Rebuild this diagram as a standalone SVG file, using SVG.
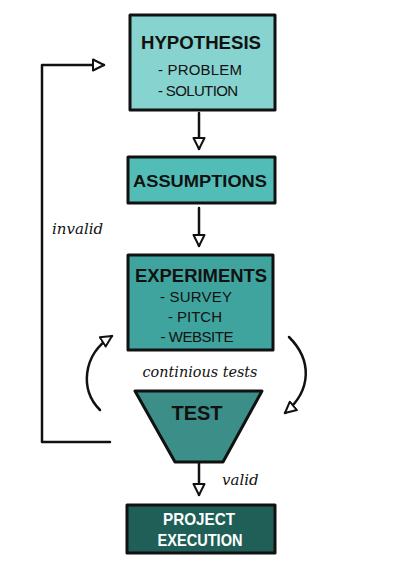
<svg xmlns="http://www.w3.org/2000/svg" width="400" height="566" viewBox="0 0 400 566">
<defs>
<marker id="open" viewBox="0 0 14 14" refX="12" refY="7" markerWidth="14" markerHeight="14" markerUnits="userSpaceOnUse" orient="auto">
<path d="M1,1.5 L12,7 L1,12.5 Z" fill="#fff" stroke="#111" stroke-width="2" stroke-linejoin="round"/>
</marker>
</defs>
<style>
.box{stroke:#111;stroke-width:3;stroke-linejoin:round}
.title{font-family:"Liberation Sans",Arial,sans-serif;font-weight:bold;fill:#111;text-anchor:middle}
.item{font-family:"Liberation Sans",Arial,sans-serif;fill:#111;text-anchor:middle;font-size:15px}
.line{fill:none;stroke:#111;stroke-width:2.5;stroke-linecap:round;stroke-linejoin:round}
.hand{font-family:"DejaVu Serif","Liberation Serif",serif;font-style:italic;fill:#111}
</style>
<rect width="400" height="566" fill="#fff"/>
<g id="connectors">
<path class="line" d="M199,113 L199,149" marker-end="url(#open)"/>
<path class="line" d="M199,208 L199,246" marker-end="url(#open)"/>
<path class="line" d="M110,442 L42,442 L42,65 L104,65" marker-end="url(#open)"/>
<path class="line" d="M100,410 C80,390 82,355 112,336" marker-end="url(#open)"/>
<path class="line" d="M289,337 C312,360 312,390 285,413" marker-end="url(#open)"/>
<path class="line" d="M199,463 L199,495" marker-end="url(#open)"/>
<text class="hand" x="52" y="234" font-size="15">invalid</text>
<text class="hand" x="200" y="377" font-size="15" text-anchor="middle" textLength="115" lengthAdjust="spacingAndGlyphs">continious tests</text>
<text class="hand" x="222" y="485" font-size="15">valid</text>
</g>
<g id="hypothesis">
<rect class="box" x="130" y="15" width="145" height="95" fill="#86d3cf"/>
<text class="title" x="201" y="49" font-size="18" textLength="120" lengthAdjust="spacingAndGlyphs">HYPOTHESIS</text>
<text class="item" x="200" y="75" textLength="84" lengthAdjust="spacing">- PROBLEM</text>
<text class="item" x="198" y="96" textLength="80" lengthAdjust="spacing">- SOLUTION</text>
</g>
<g id="assumptions">
<rect class="box" x="128" y="157" width="147" height="46" fill="#52bdb6"/>
<text class="title" x="200" y="187" font-size="17" textLength="134" lengthAdjust="spacingAndGlyphs">ASSUMPTIONS</text>
</g>
<g id="experiments">
<rect class="box" x="128" y="255" width="145" height="95" fill="#3fa49e"/>
<text class="title" x="201" y="282" font-size="18" textLength="132" lengthAdjust="spacingAndGlyphs">EXPERIMENTS</text>
<text class="item" x="196" y="302" textLength="72" lengthAdjust="spacing">- SURVEY</text>
<text class="item" x="195" y="322" textLength="54" lengthAdjust="spacing">- PITCH</text>
<text class="item" x="197" y="342" textLength="73" lengthAdjust="spacing">- WEBSITE</text>
</g>
<g id="test">
<path class="box" d="M135,391 L262,391 L223,462 L175,462 Z" fill="#3b8f88"/>
<text class="title" x="197" y="420" font-size="20">TEST</text>
</g>
<g id="project-execution">
<rect class="box" x="127" y="505" width="148" height="48" fill="#1f5f58"/>
<text class="title" x="199" y="525" font-size="17" style="fill:#fff" textLength="72" lengthAdjust="spacingAndGlyphs">PROJECT</text>
<text class="title" x="200" y="546" font-size="17" style="fill:#fff" textLength="85" lengthAdjust="spacingAndGlyphs">EXECUTION</text>
</g>
</svg>
